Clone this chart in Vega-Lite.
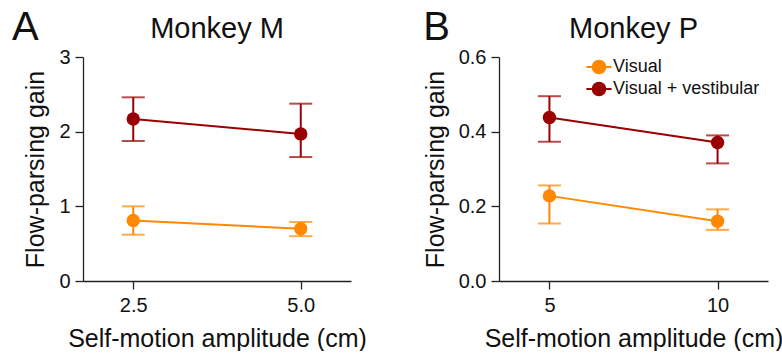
{
  "$schema": "https://vega.github.io/schema/vega-lite/v6.json",
  "background": "white",
  "padding": {"left": 11, "top": 8, "right": 5, "bottom": 0},
  "config": {
    "font": "Liberation Sans",
    "view": {"stroke": null},
    "axis": {
      "grid": false,
      "domainColor": "#222222",
      "tickColor": "#222222",
      "labelColor": "#111111",
      "titleColor": "#111111",
      "labelFontSize": 20,
      "titleFontSize": 25,
      "titleFontWeight": "normal",
      "tickSize": 8,
      "labelPadding": 5,
      "domainWidth": 1.3,
      "tickWidth": 1.3
    },
    "axisY": {"titlePadding": 10},
    "axisX": {"titlePadding": 11, "labelPadding": 6},
    "legend": {
      "labelFontSize": 18,
      "labelColor": "#111111",
      "symbolType": "M-1.4,0L1.4,0M0.7,0A0.7,0.7 0 1 1 -0.7,0A0.7,0.7 0 1 1 0.7,0Z",
      "symbolSize": 324,
      "symbolStrokeWidth": 2,
      "symbolOpacity": 1,
      "rowPadding": 0,
      "labelOffset": 4
    },
    "title": {"fontSize": 29, "fontWeight": "normal", "color": "#111111", "frame": "group"},
    "concat": {"spacing": 56}
  },
  "resolve": {
    "scale": {"x": "independent", "y": "independent", "color": "independent", "fill": "independent", "stroke": "independent"},
    "legend": {"color": "independent", "fill": "independent", "stroke": "independent"}
  },
  "hconcat": [
    {
      "title": {"text": "A", "anchor": "start", "frame": "bounds", "fontSize": 40, "dx": -12, "dy": 37},
      "vconcat": [
        {
          "title": {"text": "Monkey M", "offset": 3},
          "width": 268,
          "height": 224,
          "data": {"values": [
            {"amp": 2.5, "cond": "Visual", "mean": 0.81, "lo": 0.62, "hi": 1.0},
            {"amp": 5.0, "cond": "Visual", "mean": 0.70, "lo": 0.60, "hi": 0.79},
            {"amp": 2.5, "cond": "Visual + vestibular", "mean": 2.17, "lo": 1.875, "hi": 2.46},
            {"amp": 5.0, "cond": "Visual + vestibular", "mean": 1.97, "lo": 1.66, "hi": 2.375}
          ]},
          "encoding": {
            "x": {"field": "amp", "type": "quantitative", "title": "Self-motion amplitude (cm)",
                  "scale": {"domain": [1.75, 5.75], "nice": false, "zero": false},
                  "axis": {"values": [2.5, 5.0], "format": ".1f"}},
            "color": {"field": "cond", "type": "nominal",
                      "scale": {"domain": ["Visual", "Visual + vestibular"], "range": ["#FF8800", "#990000"]},
                      "legend": null}
          },
          "layer": [
            {"mark": {"type": "rule", "strokeWidth": 2},
             "encoding": {"y": {"field": "lo", "type": "quantitative", "title": "Flow-parsing gain",
                                "scale": {"domain": [0, 3], "nice": false},
                                "axis": {"values": [0, 0.5, 1, 1.5, 2, 2.5, 3], "labelExpr": "datum.value % 1 === 0 ? format(datum.value, 'd') : ''"}},
                          "y2": {"field": "hi"}}},
            {"mark": {"type": "tick", "orient": "horizontal", "size": 23, "thickness": 2},
             "encoding": {"y": {"field": "lo", "type": "quantitative", "title": "Flow-parsing gain"}}},
            {"mark": {"type": "tick", "orient": "horizontal", "size": 23, "thickness": 2},
             "encoding": {"y": {"field": "hi", "type": "quantitative", "title": "Flow-parsing gain"}}},
            {"mark": {"type": "line", "strokeWidth": 2},
             "encoding": {"y": {"field": "mean", "type": "quantitative", "title": "Flow-parsing gain"}}},
            {"mark": {"type": "point", "filled": true, "size": 180, "opacity": 1},
             "encoding": {"y": {"field": "mean", "type": "quantitative", "title": "Flow-parsing gain"}}}
          ]
        }
      ]
    },
    {
      "title": {"text": "B", "anchor": "start", "frame": "bounds", "fontSize": 40, "dx": 0, "dy": 37},
      "resolve": {
        "scale": {"fill": "independent", "stroke": "independent"},
        "legend": {"fill": "independent", "stroke": "independent"}
      },
      "vconcat": [
        {
          "title": {"text": "Monkey P", "offset": 3},
          "width": 269,
          "height": 224,
          "data": {"values": [
            {"amp": 5, "cond": "Visual", "mean": 0.228, "lo": 0.154, "hi": 0.256},
            {"amp": 10, "cond": "Visual", "mean": 0.160, "lo": 0.137, "hi": 0.192},
            {"amp": 5, "cond": "Visual + vestibular", "mean": 0.438, "lo": 0.373, "hi": 0.495},
            {"amp": 10, "cond": "Visual + vestibular", "mean": 0.371, "lo": 0.315, "hi": 0.390}
          ]},
          "encoding": {
            "x": {"field": "amp", "type": "quantitative", "title": "Self-motion amplitude (cm)",
                  "scale": {"domain": [3.5, 11.5], "nice": false, "zero": false},
                  "axis": {"values": [5, 10], "format": "d"}}
          },
          "layer": [
            {"mark": {"type": "rule", "strokeWidth": 2},
             "encoding": {"y": {"field": "lo", "type": "quantitative", "title": "Flow-parsing gain",
                                "scale": {"domain": [0, 0.6], "nice": false},
                                "axis": {"values": [0, 0.1, 0.2, 0.3, 0.4, 0.5, 0.6], "labelExpr": "round(datum.value * 10) % 2 === 0 ? format(datum.value, '.1f') : ''"}},
                          "y2": {"field": "hi"},
                          "stroke": {"field": "cond", "type": "nominal",
                                     "scale": {"domain": ["Visual", "Visual + vestibular"], "range": ["#FF8800", "#990000"]},
                                     "legend": {"orient": "none", "legendX": 90, "legendY": 0, "title": null}}}},
            {"mark": {"type": "tick", "orient": "horizontal", "size": 23, "thickness": 2},
             "encoding": {"y": {"field": "lo", "type": "quantitative", "title": "Flow-parsing gain"},
                          "fill": {"field": "cond", "type": "nominal",
                                   "scale": {"domain": ["Visual", "Visual + vestibular"], "range": ["#FF8800", "#990000"]},
                                   "legend": {"orient": "none", "legendX": 90, "legendY": 0, "title": null}}}},
            {"mark": {"type": "tick", "orient": "horizontal", "size": 23, "thickness": 2},
             "encoding": {"y": {"field": "hi", "type": "quantitative", "title": "Flow-parsing gain"},
                          "fill": {"field": "cond", "type": "nominal"}}},
            {"mark": {"type": "line", "strokeWidth": 2},
             "encoding": {"y": {"field": "mean", "type": "quantitative", "title": "Flow-parsing gain"},
                          "stroke": {"field": "cond", "type": "nominal"}}},
            {"mark": {"type": "point", "filled": true, "size": 180, "opacity": 1},
             "encoding": {"y": {"field": "mean", "type": "quantitative", "title": "Flow-parsing gain"}, 
                          "fill": {"field": "cond", "type": "nominal"}}}
          ]
        }
      ]
    }
  ]
}
